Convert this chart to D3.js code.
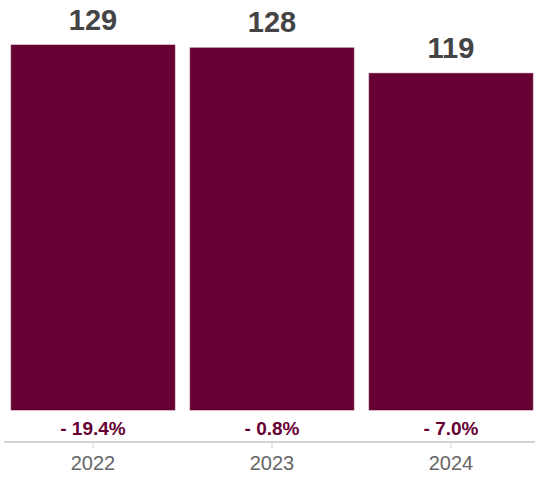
<!DOCTYPE html>
<html>
<head>
<meta charset="utf-8">
<script src="https://cdn.jsdelivr.net/npm/d3@7"></script>
<style>
  html, body { margin: 0; padding: 0; background: #fff; }
  svg { display: block; font-family: "Liberation Sans", Arial, Helvetica, sans-serif; }
</style>
</head>
<body>
<svg id="chart" width="535" height="477"></svg>
<script>
// Yearly totals with the change against the previous year
const years = ["2022", "2023", "2024"];
const totals = [129, 128, 119];
const changes = ["- 19.4%", "- 0.8%", "- 7.0%"];

const svg = d3.select("#chart");
const W = 535, H = 477;
const barColor = "#660033";

const x = d3.scaleBand()
  .domain(years)
  .range([3.5, 540.5])
  .paddingInner(0.08)
  .paddingOuter(0.04);

const y = d3.scaleLinear()
  .domain([0, d3.max(totals)])
  .range([410.5, 44.5]);

const rows = years.map((yr, i) => ({ year: yr, total: totals[i], change: changes[i] }));

// bars
svg.append("g")
  .selectAll("rect")
  .data(rows)
  .join("rect")
  .attr("x", d => x(d.year))
  .attr("y", d => y(d.total))
  .attr("width", x.bandwidth())
  .attr("height", d => y(0) - y(d.total))
  .attr("fill", barColor)
  .attr("stroke", "rgba(255,255,255,0.45)")
  .attr("stroke-width", 1);

// value labels above bars
svg.append("g")
  .selectAll("text")
  .data(rows)
  .join("text")
  .attr("x", d => x(d.year) + x.bandwidth() / 2)
  .attr("y", d => y(d.total) - 15)
  .attr("text-anchor", "middle")
  .attr("font-size", 29)
  .attr("font-weight", "bold")
  .attr("fill", "#444")
  .text(d => d.total);

// change labels under bars
svg.append("g")
  .selectAll("text")
  .data(rows)
  .join("text")
  .attr("x", d => x(d.year) + x.bandwidth() / 2)
  .attr("y", 435)
  .attr("text-anchor", "middle")
  .attr("font-size", 19)
  .attr("font-weight", "bold")
  .attr("fill", barColor)
  .text(d => d.change);

// x axis
const axis = svg.append("g")
  .attr("transform", "translate(0,442)")
  .call(d3.axisBottom(x).tickSize(6).tickPadding(8));
axis.select(".domain")
  .attr("d", `M4,0H${W}`)
  .attr("stroke", "#d3d3d3")
  .attr("stroke-width", 2);
axis.selectAll(".tick line").attr("stroke", "#d3d3d3").attr("stroke-width", 1);
axis.selectAll(".tick text")
  .attr("font-size", 20)
  .attr("fill", "#666")
  .attr("font-family", "Liberation Sans, Arial, sans-serif");
</script>
</body>
</html>
